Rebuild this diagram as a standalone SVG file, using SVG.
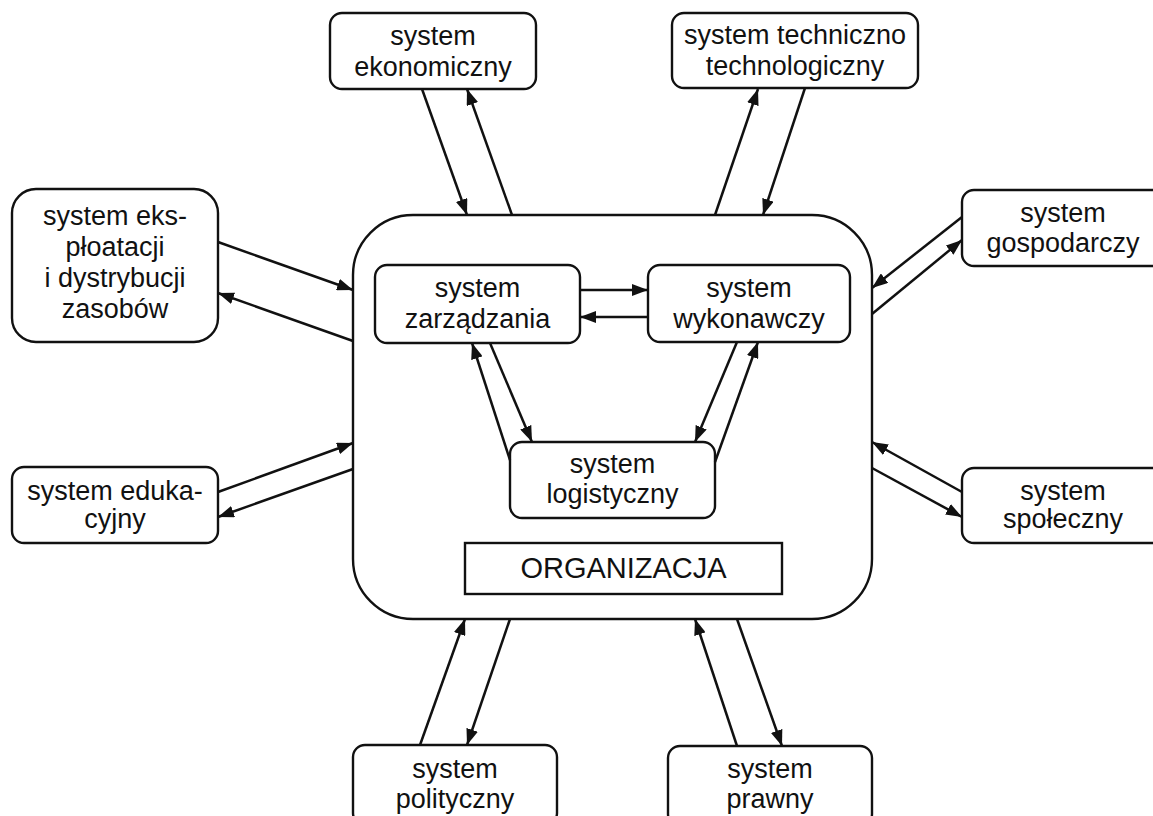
<svg xmlns="http://www.w3.org/2000/svg" width="1153" height="816" viewBox="0 0 1153 816">
  <style>
    .box { fill: #ffffff; stroke: #111111; stroke-width: 2.4; }
    .lbl { font-family: "Liberation Sans", Arial, sans-serif; font-size: 27px; fill: #111111; text-anchor: middle; }
    .big { font-size: 29px; }
    .link { stroke: #111111; stroke-width: 2.5; fill: none; marker-end: url(#head); }
  </style>
  <defs>
    <marker id="head" markerUnits="userSpaceOnUse" viewBox="0 0 16 12" refX="16" refY="6" markerWidth="16" markerHeight="12" orient="auto">
      <path d="M0,0 L16,6 L0,12 Z" fill="#111111"/>
    </marker>
  </defs>
  <rect width="1153" height="816" fill="#ffffff"/>

  <!-- organisation container -->
  <g id="organizacja">
    <rect class="box" x="353" y="215" width="519" height="404" rx="60" ry="60"/>
    <rect class="box" x="465" y="543" width="317" height="51"/>
    <text class="lbl big" x="623.5" y="578">ORGANIZACJA</text>
  </g>

  <!-- inner subsystems -->
  <g id="system-zarzadzania">
    <rect class="box" x="375" y="265" width="205" height="78" rx="12"/>
    <text class="lbl" x="477.5" y="297">system</text>
    <text class="lbl" x="477.5" y="328">zarządzania</text>
  </g>
  <g id="system-wykonawczy">
    <rect class="box" x="648" y="265" width="202" height="77" rx="12"/>
    <text class="lbl" x="749" y="297">system</text>
    <text class="lbl" x="749" y="328">wykonawczy</text>
  </g>
  <g id="system-logistyczny">
    <rect class="box" x="510" y="442" width="205" height="76" rx="12"/>
    <text class="lbl" x="612.5" y="473">system</text>
    <text class="lbl" x="612.5" y="503">logistyczny</text>
  </g>

  <!-- surrounding systems -->
  <g id="system-ekonomiczny">
    <rect class="box" x="330" y="13" width="206" height="76" rx="12"/>
    <text class="lbl" x="433" y="45">system</text>
    <text class="lbl" x="433" y="76">ekonomiczny</text>
  </g>
  <g id="system-techniczno-technologiczny">
    <rect class="box" x="672" y="13" width="246" height="75" rx="12"/>
    <text class="lbl" x="795" y="44">system techniczno</text>
    <text class="lbl" x="795" y="75">technologiczny</text>
  </g>
  <g id="system-eksploatacji">
    <rect class="box" x="12" y="189" width="206" height="153" rx="24"/>
    <text class="lbl" x="115" y="225">system eks-</text>
    <text class="lbl" x="115" y="256">płoatacji</text>
    <text class="lbl" x="115" y="287">i dystrybucji</text>
    <text class="lbl" x="115" y="318">zasobów</text>
  </g>
  <g id="system-gospodarczy">
    <rect class="box" x="962" y="190" width="203" height="76" rx="12"/>
    <text class="lbl" x="1063" y="222">system</text>
    <text class="lbl" x="1063" y="252">gospodarczy</text>
  </g>
  <g id="system-edukacyjny">
    <rect class="box" x="12" y="467" width="206" height="76" rx="12"/>
    <text class="lbl" x="115" y="500">system eduka-</text>
    <text class="lbl" x="115" y="528">cyjny</text>
  </g>
  <g id="system-spoleczny">
    <rect class="box" x="962" y="468" width="203" height="75" rx="12"/>
    <text class="lbl" x="1063" y="500">system</text>
    <text class="lbl" x="1063" y="528">społeczny</text>
  </g>
  <g id="system-polityczny">
    <rect class="box" x="353" y="745" width="204" height="80" rx="12"/>
    <text class="lbl" x="455" y="778">system</text>
    <text class="lbl" x="455" y="808">polityczny</text>
  </g>
  <g id="system-prawny">
    <rect class="box" x="668" y="746" width="204" height="80" rx="12"/>
    <text class="lbl" x="770" y="778">system</text>
    <text class="lbl" x="770" y="808">prawny</text>
  </g>

  <!-- connectors -->
  <g id="connectors">
    <!-- ekonomiczny -->
    <line class="link" x1="422" y1="89" x2="467" y2="215"/>
    <line class="link" x1="512" y1="215" x2="467" y2="89"/>
    <!-- techniczno technologiczny -->
    <line class="link" x1="715" y1="215" x2="758" y2="89"/>
    <line class="link" x1="805" y1="88" x2="763" y2="215"/>
    <!-- eksploatacji -->
    <line class="link" x1="218" y1="242" x2="353" y2="290"/>
    <line class="link" x1="353" y1="341" x2="218" y2="293"/>
    <!-- edukacyjny -->
    <line class="link" x1="218" y1="492" x2="353" y2="443"/>
    <line class="link" x1="353" y1="469" x2="218" y2="517"/>
    <!-- gospodarczy -->
    <line class="link" x1="962" y1="217" x2="872" y2="288"/>
    <line class="link" x1="872" y1="314" x2="962" y2="240"/>
    <!-- społeczny -->
    <line class="link" x1="962" y1="492" x2="872" y2="442"/>
    <line class="link" x1="872" y1="468" x2="962" y2="517"/>
    <!-- polityczny -->
    <line class="link" x1="420" y1="745" x2="465" y2="619"/>
    <line class="link" x1="510" y1="619" x2="467" y2="745"/>
    <!-- prawny -->
    <line class="link" x1="737" y1="746" x2="695" y2="619"/>
    <line class="link" x1="737" y1="619" x2="782" y2="746"/>
    <!-- inner: zarządzanie / wykonanie -->
    <line class="link" x1="580" y1="290" x2="648" y2="290"/>
    <line class="link" x1="648" y1="317" x2="580" y2="317"/>
    <!-- inner: zarządzanie / logistyka -->
    <line class="link" x1="510" y1="460" x2="472" y2="343"/>
    <line class="link" x1="490" y1="343" x2="532" y2="442"/>
    <!-- inner: wykonanie / logistyka -->
    <line class="link" x1="737" y1="342" x2="695" y2="442"/>
    <line class="link" x1="715" y1="462" x2="758" y2="342"/>
  </g>
</svg>
